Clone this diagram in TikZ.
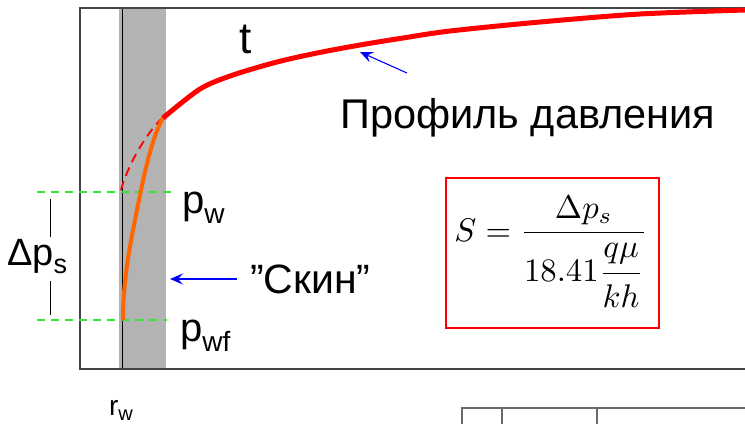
\documentclass[tikz,border=0pt]{standalone}
\usepackage{fontspec}
\setmainfont{Liberation Sans}
\usetikzlibrary{arrows.meta}
\definecolor{bandgray}{HTML}{B3B3B3}
\definecolor{frameg}{HTML}{444444}
\definecolor{greenl}{HTML}{33E633}
\definecolor{orangel}{HTML}{FF6600}
\tikzset{
  frameline/.style={draw=frameg,line width=1.5pt},
  greendash/.style={draw=greenl,line width=1.3pt,dash pattern=on 8pt off 6pt},
  bluearrow/.style={draw=blue,line width=1.1pt,-{Stealth[length=13pt,width=11pt,inset=5pt]}},
  lbl/.style={inner sep=0pt,font=\fontsize{40}{44}\selectfont},
}
\newcommand{\mysub}[3]{\raisebox{-#1pt}{\fontsize{#2}{#2}\selectfont #3}}
\begin{document}
\begin{tikzpicture}[x=1pt,y=-1pt]
\useasboundingbox (0,0) rectangle (745,424);
% skin band
\fill[bandgray] (119,8) rectangle (166,369);
\draw[black,line width=1pt] (122,8) -- (122,369);
% frame
\draw[frameline] (745,8) -- (80,8) -- (80,369) -- (745,369);
% bottom right table lines
\draw[draw=frameg!80,line width=1.3pt] (745,408) -- (462,408) -- (462,424);
\draw[draw=frameg!80,line width=1.3pt] (502,408) -- (502,424);
\draw[draw=frameg!80,line width=1.3pt] (597,408) -- (597,424);
% green levels
\draw[greendash] (37,192) -- (176,192);
\draw[greendash] (37,320) -- (167,320);
% delta p_s bracket lines
\draw[black,line width=1pt] (50,199) -- (50,237);
\draw[black,line width=1pt] (50,281) -- (50,315);
% red dashed extrapolation
\draw[red,line width=1.8pt,dash pattern=on 9pt off 6pt] (121,190) .. controls (128,165) and (145,135) .. (163,117);
% orange skin profile
\draw[orangel,line width=4pt] (123,320) .. controls (123,290) and (127,260) .. (134,225)
  .. controls (142,185) and (150,140) .. (164,116);
% red profile
\draw[red,line width=5pt,line join=round] plot[smooth,tension=0.5] coordinates {(163,118) (200,89) (233,75) (277,62) (317,53) (360,45) (403,38) (450,31) (540,22) (640,14) (745,10)};
% labels
\node[lbl,anchor=base,font=\fontsize{44}{48}\selectfont] (t) at (246,53) {t};
\node[lbl,anchor=base west,font=\fontsize{41.5}{45}\selectfont] (prof) at (340,128) {Профиль давления};
\coordinate (profpt) at (360,52);
\draw[bluearrow] (407,73) -- (profpt);
\node[lbl,anchor=base west,font=\fontsize{41}{45}\selectfont] (skin) at (250,293) {\symbol{34}Скин\symbol{34}};
\coordinate (skinpt) at (170,279);
\draw[bluearrow] (237,279) -- (skinpt);
\node[lbl,anchor=base west] (pw) at (182,213) {p\mysub{10}{28}{w}};
\node[lbl,anchor=base west] (pwf) at (180,341) {p\mysub{10}{28}{wf}};
\node[lbl,anchor=base west,font=\fontsize{38}{42}\selectfont] (dps) at (7,265) {Δp\mysub{8}{27}{s}};
\node[inner sep=0pt,anchor=base,font=\fontsize{28}{30}\selectfont] (rw) at (121,415) {r\mysub{5}{20}{w}};
% formula box
\draw[red,line width=1.5pt] (446,178) rectangle (659,328);
\node[inner sep=0pt,anchor=base] (formula) at (551,241)
  {\resizebox{193pt}{!}{$\displaystyle S=\frac{\Delta p_s}{18.41\vbox{\kern1.8pt\hbox{$\displaystyle\frac{q\mu\rule[-3.5pt]{0pt}{0pt}}{\rule{0pt}{8.9pt}kh}$}}}$}};
\end{tikzpicture}
\end{document}
